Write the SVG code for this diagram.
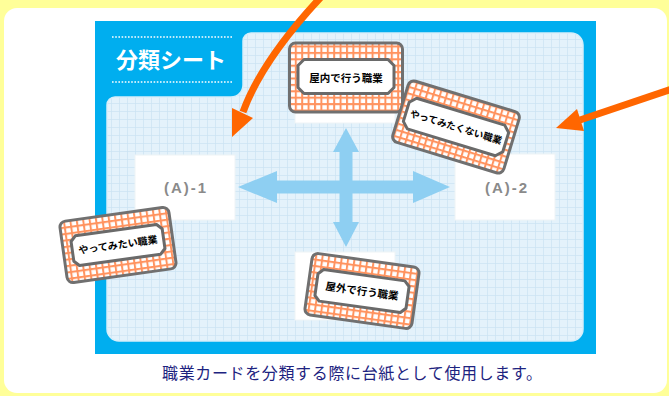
<svg xmlns="http://www.w3.org/2000/svg" width="669" height="396" viewBox="0 0 669 396">
<defs>
<pattern id="grid" width="8" height="8" patternUnits="userSpaceOnUse"><rect width="8" height="8" fill="#e4f2fb"/><path d="M7.6 0V8M0 7.6H8" stroke="#cce3f2" stroke-width="0.8"/></pattern>
<pattern id="ging" width="6.4" height="6.4" patternUnits="userSpaceOnUse"><rect width="6.4" height="6.4" fill="#ffffff"/><path d="M0 1H6.4M1 0V6.4" stroke="#ff935f" stroke-width="2"/></pattern>
<style>
.card{fill:url(#ging);stroke:#707070;stroke-width:3}
.lab{fill:#ffffff;stroke:#6a6a6a;stroke-width:3;stroke-linejoin:round}
.ct{font-family:"Noto Sans CJK JP","Noto Sans CJK SC",sans-serif;font-weight:bold;fill:#000;text-anchor:middle}
.box{fill:#ffffff;stroke:#eef3f6;stroke-width:1}
.bt{font-family:"Liberation Sans",Arial,sans-serif;font-weight:bold;font-size:15px;fill:#8a8a8a;text-anchor:middle}
.cross{fill:#8ecff2}
.org{stroke:#ff6600;stroke-width:7;fill:none}
.orh{fill:#ff6600}
</style>
</defs>
<rect width="669" height="396" fill="#ffff99"/>
<rect x="4" y="8" width="663" height="385" rx="13" fill="#ffffff"/>
<g id="sheet">
<rect x="95" y="21" width="501" height="333" fill="#00aeef"/>
<path d="M251 33H571A12 12 0 0 1 583 45V329A12 12 0 0 1 571 341H119A12 12 0 0 1 107 329V105A8 8 0 0 1 115 97H231A12 12 0 0 0 243 85V41A8 8 0 0 1 251 33Z" fill="url(#grid)" stroke="#d6eefa" stroke-width="1.5"/>
</g>
<g id="title">
<line x1="112" y1="37" x2="232" y2="37" stroke="#ffffff" stroke-width="1.6" stroke-dasharray="1.6 1.6"/>
<line x1="112" y1="82" x2="232" y2="82" stroke="#ffffff" stroke-width="1.6" stroke-dasharray="1.6 1.6"/>
<text x="171" y="68" font-family="Noto Sans CJK JP,Noto Sans CJK SC,sans-serif" font-weight="bold" font-size="22" fill="#ffffff" text-anchor="middle">分類シート</text>
</g>
<g id="box-top"><rect class="box" x="295" y="55" width="100" height="68"/></g>
<g id="box-a1"><rect class="box" x="135" y="155" width="100" height="65"/><text class="bt" x="185" y="193" textLength="42">(A)-1</text></g>
<g id="box-a2"><rect class="box" x="455" y="154" width="100" height="66"/><text class="bt" x="506" y="193" textLength="42">(A)-2</text></g>
<g id="box-bottom"><rect class="box" x="295" y="252" width="100" height="68"/></g>
<g id="connectors">
<polygon class="cross" points="238,187 277,171 277,180.5 413,180.5 413,171 450,187 413,203 413,193.5 277,193.5 277,203"/>
<polygon class="cross" points="346,128 359,152 352.5,152 352.5,222 359,222 346,247 333,222 339.5,222 339.5,152 333,152"/>
</g>
<g id="card-indoor" transform="translate(346,77.5)">
<rect class="card" x="-56.5" y="-34.5" width="113" height="69" rx="6"/>
<path class="lab" d="M-42 -18H42L48 -12V10L42 16H-42L-48 10V-12Z"/>
<text class="ct" x="0" y="4.5" font-size="10.5">屋内で行う職業</text>
</g>
<g id="card-notwant" transform="translate(456,127) rotate(17)">
<rect class="card" x="-58" y="-32" width="116" height="64" rx="6"/>
<path class="lab" d="M-46 -16H46L52 -10V10L46 16H-46L-52 10V-10Z"/>
<text class="ct" x="0" y="3.5" font-size="9.6">やってみたくない職業</text>
</g>
<g id="card-want" transform="translate(118,245) rotate(-8)">
<rect class="card" x="-55" y="-31" width="110" height="62" rx="6"/>
<path class="lab" d="M-41 -15H41L46 -10V10L41 15H-41L-46 10V-10Z"/>
<text class="ct" x="0" y="3.5" font-size="10">やってみたい職業</text>
</g>
<g id="card-outdoor" transform="translate(362,291) rotate(8)">
<rect class="card" x="-54" y="-31" width="108" height="62" rx="6"/>
<path class="lab" d="M-41 -16H41L46 -11V11L41 16H-41L-46 11V-11Z"/>
<text class="ct" x="0" y="4" font-size="10.5">屋外で行う職業</text>
</g>
<g id="pointers">
<path class="org" d="M322 -4Q262 60 243 112"/>
<polygon class="orh" points="232,137 253,118 232,108"/>
<path class="org" d="M672 89L580 120"/>
<polygon class="orh" points="556,128 577,109 584,131"/>
</g>
<g id="caption">
<text x="352" y="379" font-family="Noto Sans CJK JP,Noto Sans CJK SC,sans-serif" font-size="16" fill="#1d2380" text-anchor="middle" textLength="380">職業カードを分類する際に台紙として使用します。</text>
</g>
</svg>
